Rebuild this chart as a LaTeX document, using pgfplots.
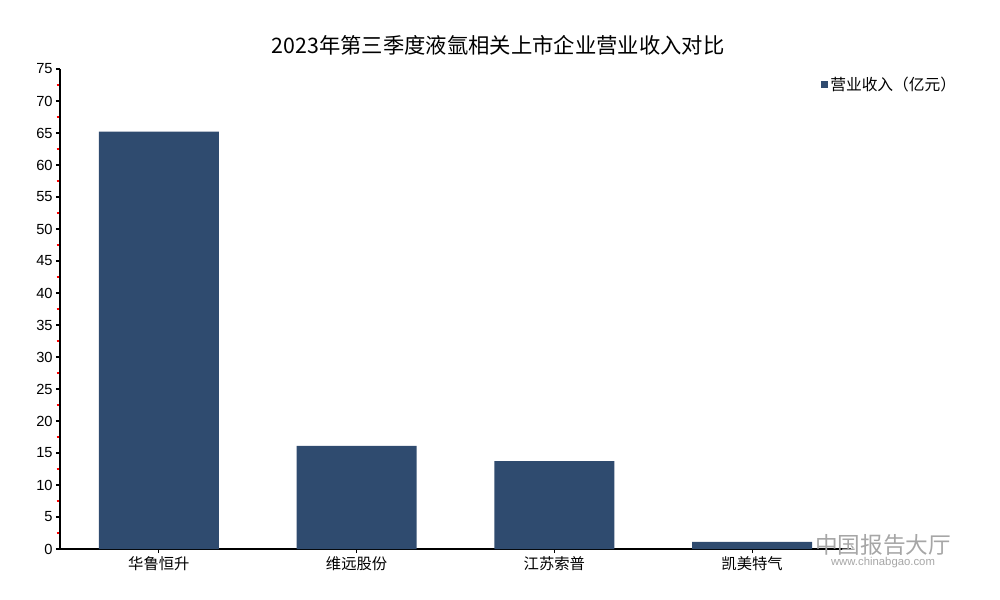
\documentclass[border=0pt]{standalone}
\usepackage{pgfplots}
\pgfplotsset{compat=1.18}
\usetikzlibrary{calc}
\usepackage{fontspec}
\setmainfont{Noto Sans CJK SC}
\newfontfamily\numfont{Liberation Sans}
\definecolor{barc}{HTML}{2F4B6F}
\begin{document}
\begin{tikzpicture}
\begin{axis}[
  scale only axis, width=593.25pt, height=360pt,
  xmin=-0.5, xmax=3.5, ymin=0, ymax=75,
  axis x line*=bottom, axis y line*=left,
  axis line style={-, black, line width=0.8pt},
  ytick={0,5,...,75},
  minor ytick={2.5,7.5,...,72.5},
  major tick style={black, line width=0.8pt},
  every minor tick/.append style={draw=red, color=red, line width=0.8pt},
  tick align=outside,
  major tick length=3pt, minor tick length=2.5pt,
  xtick={0,1,2,3},
  xticklabels={华鲁恒升,维远股份,江苏索普,凯美特气},
  x tick label style={font=\fontsize{11.5}{13}\selectfont, yshift=1pt},
  y tick label style={font=\numfont\fontsize{11}{13}\selectfont},
  /pgf/number format/assume math mode=true,
  yticklabel style={xshift=1pt},
  ybar, bar width=0.607,
  legend style={at={(0.962,0.968)}, anchor=west, draw=none, fill=none,
    font=\fontsize{11.8}{13}\selectfont, inner sep=0pt},
  legend image code/.code={\fill[#1] (0pt,-2.4pt) rectangle (4.8pt,2.4pt);},
  clip=false,
]
\addplot[fill=barc, draw=none] coordinates {(0,65.2) (1,16.1) (2,13.75) (3,1.1)};
\addlegendentry{营业收入（亿元）}
\coordinate (O) at (rel axis cs:0,0);
\end{axis}
\pgfresetboundingbox
\begin{scope}[x=0.75pt,y=0.75pt, shift={(O)}]
\path[use as bounding box] (-60,-51) rectangle (940,549);
\node[font=\fontsize{16}{18}\selectfont] at (438,504) {2023年第三季度液氩相关上市企业营业收入对比};
\node[font=\fontsize{17}{18}\selectfont, text=black!35] at (823,4) {中国报告大厅};
\node[font=\numfont\fontsize{8.5}{10}\selectfont, text=black!35] at (823,-14) {www.chinabgao.com};
\end{scope}
\end{tikzpicture}
\end{document}
